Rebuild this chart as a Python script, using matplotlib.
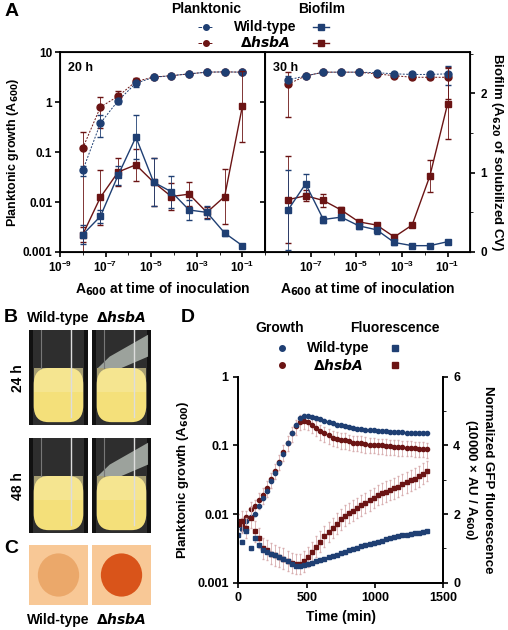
import numpy as np
import matplotlib.pyplot as plt
import matplotlib.patches as mpatches
from matplotlib.ticker import LogLocator, NullFormatter, FixedLocator

plt.rcParams['font.family'] = ['Liberation Sans', 'DejaVu Sans']
plt.rcParams['font.weight'] = 'bold'
plt.rcParams['axes.labelweight'] = 'bold'

BLUE = '#1f3f73'
RED = '#6b1414'

# ---- Panel A data ----
inoc = [1e-8, 5.95e-8, 3.57e-7, 2.14e-6, 1.29e-5, 7.7e-5, 4.6e-4, 2.78e-3, 1.67e-2, 0.1]

plank20_wt = [0.043, 0.38, 1.08, 2.4, 3.16, 3.4, 3.7, 4.0, 4.05, 4.0]
plank20_wt_err = [0.01, 0.18, 0.15, 0.4, 0.2, 0.2, 0.2, 0.2, 0.2, 0.2]
plank20_mut = [0.12, 0.8, 1.32, 2.6, 3.2, 3.4, 3.7, 4.0, 4.05, 4.0]
plank20_mut_err = [0.13, 0.5, 0.35, 0.4, 0.2, 0.2, 0.2, 0.2, 0.2, 0.2]
bio20_wt = [0.22, 0.45, 0.97, 1.45, 0.88, 0.76, 0.53, 0.50, 0.24, 0.08]
bio20_wt_err = [0.12, 0.08, 0.12, 0.28, 0.3, 0.2, 0.12, 0.08, 0.04, 0.02]
bio20_mut = [0.22, 0.69, 1.01, 1.10, 0.88, 0.70, 0.73, 0.50, 0.70, 1.84]
bio20_mut_err = [0.1, 0.35, 0.18, 0.2, 0.3, 0.17, 0.15, 0.07, 0.35, 0.45]

plank30_wt = [2.8, 3.36, 4.0, 4.0, 4.0, 3.9, 3.7, 3.6, 3.6, 3.7]
plank30_wt_err = [0.6, 0.2, 0.2, 0.2, 0.2, 0.2, 0.2, 0.2, 0.2, 1.5]
plank30_mut = [2.3, 3.36, 4.0, 4.0, 4.0, 3.7, 3.4, 3.16, 3.16, 3.16]
plank30_mut_err = [1.8, 0.2, 0.2, 0.2, 0.2, 0.2, 0.2, 0.2, 0.2, 2.0]
bio30_wt = [0.53, 0.86, 0.41, 0.44, 0.33, 0.28, 0.12, 0.08, 0.08, 0.13]
bio30_wt_err = [0.5, 0.12, 0.04, 0.03, 0.04, 0.05, 0.03, 0.02, 0.02, 0.02]
bio30_mut = [0.66, 0.71, 0.65, 0.53, 0.38, 0.34, 0.19, 0.34, 0.96, 1.87]
bio30_mut_err = [0.55, 0.07, 0.08, 0.04, 0.03, 0.03, 0.03, 0.03, 0.2, 0.45]

# ---- Panel D data (sampled every 30 min) ----
time_min = list(range(0, 1381, 30))
growth_wt = [0.007, 0.006, 0.008, 0.009, 0.010, 0.013, 0.017, 0.022, 0.030, 0.040,
             0.055, 0.075, 0.11, 0.15, 0.20, 0.25, 0.27, 0.27, 0.26, 0.25,
             0.24, 0.23, 0.22, 0.21, 0.20, 0.195, 0.19, 0.185, 0.18, 0.175,
             0.172, 0.17, 0.168, 0.166, 0.164, 0.162, 0.16, 0.158, 0.157, 0.156,
             0.155, 0.154, 0.153, 0.152, 0.151, 0.15, 0.15]
growth_mut = [0.008, 0.007, 0.009, 0.012, 0.013, 0.016, 0.019, 0.024, 0.032, 0.043,
              0.058, 0.08, 0.11, 0.15, 0.19, 0.22, 0.23, 0.22, 0.2, 0.18,
              0.16, 0.15, 0.14, 0.13, 0.125, 0.12, 0.12, 0.115, 0.11, 0.11,
              0.108, 0.105, 0.103, 0.102, 0.1, 0.1, 0.098, 0.097, 0.096, 0.095,
              0.094, 0.093, 0.092, 0.091, 0.09, 0.089, 0.088]
fluor_wt = [1.4, 1.2, 1.5, 1.0, 1.3, 1.1, 0.95, 0.9, 0.85, 0.8,
            0.75, 0.7, 0.62, 0.55, 0.5, 0.5, 0.52, 0.55, 0.58, 0.62,
            0.66, 0.7, 0.74, 0.78, 0.82, 0.86, 0.9, 0.94, 0.98, 1.02,
            1.06, 1.1, 1.13, 1.16, 1.2, 1.23, 1.26, 1.29, 1.32, 1.35,
            1.38, 1.4, 1.42, 1.44, 1.46, 1.48, 1.5]
fluor_mut = [1.7, 1.8, 1.6, 1.9, 1.5, 1.3, 1.0, 0.95, 0.85, 0.8,
             0.75, 0.7, 0.63, 0.57, 0.55, 0.55, 0.62, 0.75, 0.9, 1.05,
             1.2, 1.35, 1.48, 1.6, 1.72, 1.85, 1.95, 2.03, 2.1, 2.18,
             2.25, 2.32, 2.4, 2.47, 2.55, 2.6, 2.65, 2.7, 2.75, 2.8,
             2.87, 2.92, 2.98, 3.03, 3.1, 3.18, 3.25]

fig = plt.figure(figsize=(5.08, 6.3), dpi=100)


def log_axis(ax):
    ax.set_xscale('log')
    ax.set_yscale('log')
    ax.set_xlim(1e-9, 1)
    ax.set_ylim(1e-3, 10)
    ax.xaxis.set_major_locator(FixedLocator([1e-9, 1e-7, 1e-5, 1e-3, 1e-1]))
    ax.xaxis.set_minor_locator(FixedLocator([1e-8, 1e-6, 1e-4, 1e-2, 1]))
    ax.xaxis.set_minor_formatter(NullFormatter())
    ax.tick_params(labelsize=8.5, width=1.2, pad=2)
    ax.set_xlabel('A$_{600}$ at time of inoculation', fontsize=10)
    for s in ax.spines.values():
        s.set_linewidth(1.3)


def panel_a(ax, pw, pwe, pm, pme, bw, bwe, bm, bme, label):
    log_axis(ax)
    ax.errorbar(inoc, pm, yerr=pme, color=RED, ls='--', lw=0.7, marker='o', ms=5,
                capsize=2, elinewidth=0.6, dashes=(2, 1.5))
    ax.errorbar(inoc, pw, yerr=pwe, color=BLUE, ls='--', lw=0.7, marker='o', ms=5,
                capsize=2, elinewidth=0.6, dashes=(2, 1.5))
    ax.text(0.04, 0.95, label, transform=ax.transAxes, fontsize=9, va='top')
    ax2 = ax.twinx()
    ax2.set_ylim(0, 2.52)
    ax2.errorbar(inoc, bm, yerr=bme, color=RED, lw=1, marker='s', ms=5, capsize=2, elinewidth=0.6)
    ax2.errorbar(inoc, bw, yerr=bwe, color=BLUE, lw=1, marker='s', ms=5, capsize=2, elinewidth=0.6)
    ax2.set_yticks([0, 1, 2])
    ax2.set_yticks([0.5, 1.5, 2.5], minor=True)
    ax2.tick_params(width=1.2, labelsize=8.5)
    return ax2


axA1 = fig.add_axes([0.118, 0.6, 0.404, 0.317])
a2 = panel_a(axA1, plank20_wt, plank20_wt_err, plank20_mut, plank20_mut_err,
             bio20_wt, bio20_wt_err, bio20_mut, bio20_mut_err, '20 h')
a2.set_yticklabels([])
axA1.set_yticks([1e-3, 1e-2, 1e-1, 1, 10])
axA1.set_yticklabels(['0.001', '0.01', '0.1', '1', '10'])
axA1.yaxis.set_minor_locator(LogLocator(subs=[]))
axA1.set_ylabel('Planktonic growth (A$_{600}$)', fontsize=9, labelpad=1)

axA2 = fig.add_axes([0.522, 0.6, 0.404, 0.317])
b2 = panel_a(axA2, plank30_wt, plank30_wt_err, plank30_mut, plank30_mut_err,
             bio30_wt, bio30_wt_err, bio30_mut, bio30_mut_err, '30 h')
axA2.yaxis.set_major_formatter(NullFormatter())
axA2.yaxis.set_minor_locator(LogLocator(subs=[]))
axA2.set_xticks([1e-7, 1e-5, 1e-3, 1e-1])
axA2.set_xticks([1e-8, 1e-6, 1e-4, 1e-2], minor=True)
b2.set_ylabel('Biofilm (A$_{620}$ of solubilized CV)', fontsize=9.5, rotation=270, labelpad=13)

# legend A
fig.text(0.405, 0.986, 'Planktonic', ha='center', va='center', fontsize=10)
fig.text(0.633, 0.986, 'Biofilm', ha='center', va='center', fontsize=10)
fig.text(0.523, 0.957, 'Wild-type', ha='center', va='center', fontsize=10)
fig.text(0.523, 0.932, r'$\Delta$$\bfit{hsbA}$', ha='center', va='center', fontsize=10)
for y, c in [(0.957, BLUE), (0.932, RED)]:
    fig.add_artist(plt.Line2D([0.39, 0.42], [y, y], color=c, lw=0.7, ls='--', transform=fig.transFigure))
    fig.add_artist(plt.Line2D([0.405], [y], color=c, marker='o', ms=4, transform=fig.transFigure))
    fig.add_artist(plt.Line2D([0.617, 0.648], [y, y], color=c, lw=1, transform=fig.transFigure))
    fig.add_artist(plt.Line2D([0.632], [y], color=c, marker='s', ms=4, transform=fig.transFigure))

# ---- Panel B / C pictures ----
def tube(rect, film):
    ax = fig.add_axes(rect)
    ax.set_xlim(0, 1)
    ax.set_ylim(0, 1)
    ax.set_facecolor('#111111')
    ax.add_patch(mpatches.Rectangle((0.06, 0.0), 0.88, 1.0, fc='#2e2e2e', ec='none'))
    ax.add_patch(mpatches.FancyBboxPatch((0.08, 0.03), 0.84, 0.57, boxstyle='round,pad=0,rounding_size=0.25',
                                         fc='#f4e07a', ec='none', mutation_aspect=0.7))
    ax.add_patch(mpatches.Rectangle((0.08, 0.35), 0.84, 0.25, fc='#f7eaa0', ec='none', alpha=0.6))
    ax.plot([0.72, 0.72], [0.08, 1], color='#dddddd', lw=1)
    ax.plot([0.2, 0.2], [0.6, 1], color='#777777', lw=0.8)
    if film:
        ax.add_patch(mpatches.Polygon([[0.1, 0.6], [0.3, 0.72], [0.95, 0.95], [0.95, 0.72], [0.5, 0.6]],
                                      fc='#b8c0b8', ec='none', alpha=0.8))
    ax.set_xticks([])
    ax.set_yticks([])
    for s in ax.spines.values():
        s.set_visible(False)


w = 59 / 508
for row, y0 in enumerate([330, 438]):
    for col, x0 in enumerate([29, 92]):
        tube([x0 / 508, 1 - (y0 + 95) / 630, w, 95 / 630], film=(col == 1))

for col, (x0, fc) in enumerate([(29, '#e8a060'), (92, '#d9541a')]):
    ax = fig.add_axes([x0 / 508, 1 - 605 / 630, w, 60 / 630])
    ax.set_facecolor('#f8c896')
    ax.set_xlim(0, 1)
    ax.set_ylim(0, 1)
    ax.add_patch(mpatches.Ellipse((0.5, 0.5), 0.7, 0.72, fc=fc, ec='none', alpha=0.8 if col == 0 else 1))
    ax.set_xticks([])
    ax.set_yticks([])
    for s in ax.spines.values():
        s.set_visible(False)

fig.text(0.115, 1 - 322 / 630, 'Wild-type', ha='center', fontsize=10)
fig.text(0.238, 1 - 322 / 630, r'$\bf{\Delta}$$\bfit{hsbA}$', ha='center', fontsize=10)
fig.text(0.035, 1 - 378 / 630, '24 h', rotation=90, ha='center', va='center', fontsize=10)
fig.text(0.035, 1 - 486 / 630, '48 h', rotation=90, ha='center', va='center', fontsize=10)
fig.text(0.115, 1 - 624 / 630, 'Wild-type', ha='center', fontsize=10)
fig.text(0.238, 1 - 624 / 630, r'$\bf{\Delta}$$\bfit{hsbA}$', ha='center', fontsize=10)

# ---- Panel D ----
axD = fig.add_axes([0.469, 0.075, 0.404, 0.327])
axD.set_yscale('log')
axD.set_ylim(1e-3, 1)
axD.set_xlim(0, 1500)
axD.set_yticks([1e-3, 1e-2, 1e-1, 1])
axD.set_yticklabels(['0.001', '0.01', '0.1', '1'])
axD.yaxis.set_minor_locator(LogLocator(subs=[]))
axD.set_xticks([0, 500, 1000, 1500])
axD.tick_params(labelsize=9, width=1.2)
axD.set_xlabel('Time (min)', fontsize=10)
axD.set_ylabel('Planktonic growth (A$_{600}$)', fontsize=9.5)
axD.spines['top'].set_visible(False)
gw = np.array(growth_wt)
gm = np.array(growth_mut)
axD.errorbar(time_min, gm, yerr=gm * 0.25, fmt='o', color=RED, ms=3, ecolor='#d8aeb0', elinewidth=0.6, capsize=1)
axD.errorbar(time_min, gw, yerr=gw * 0.05, fmt='o', color=BLUE, ms=3, ecolor='#a8c0e0', elinewidth=0.6, capsize=1)
axD2 = axD.twinx()
axD2.set_ylim(0, 6)
axD2.set_yticks([0, 2, 4, 6])
axD2.set_yticks([1, 3, 5], minor=True)
axD2.tick_params(labelsize=9, width=1.2)
axD2.spines['top'].set_visible(False)
axD2.errorbar(time_min, fluor_mut, yerr=0.3, fmt='s', color=RED, ms=2.5, ecolor='#d8aeb0', elinewidth=0.6, capsize=1)
axD2.errorbar(time_min, fluor_wt, yerr=0.05, fmt='s', color=BLUE, ms=2.5, ecolor='#a8c0e0', elinewidth=0.6, capsize=1)
axD2.set_ylabel('Normalized GFP fluorescence\n(10000 × AU / A$_{600}$)', fontsize=9.5,
                rotation=270, labelpad=24)
for s in list(axD.spines.values()) + list(axD2.spines.values()):
    s.set_linewidth(1.3)

fig.text(0.551, 1 - 328 / 630, 'Growth', ha='center', va='center', fontsize=10)
fig.text(0.778, 1 - 328 / 630, 'Fluorescence', ha='center', va='center', fontsize=10)
fig.text(0.665, 1 - 348 / 630, 'Wild-type', ha='center', va='center', fontsize=10)
fig.text(0.665, 1 - 365 / 630, r'$\Delta$$\bfit{hsbA}$', ha='center', va='center', fontsize=10)
for y, c in [(1 - 348 / 630, BLUE), (1 - 365 / 630, RED)]:
    fig.add_artist(plt.Line2D([0.555], [y], color=c, marker='o', ms=4, transform=fig.transFigure))
    fig.add_artist(plt.Line2D([0.778], [y], color=c, marker='s', ms=4, transform=fig.transFigure))

# panel letters
fig.text(0.008, 0.975, 'A', fontsize=14)
fig.text(0.008, 1 - 322 / 630, 'B', fontsize=14)
fig.text(0.008, 1 - 553 / 630, 'C', fontsize=14)
fig.text(0.355, 1 - 322 / 630, 'D', fontsize=14)

fig.savefig('out.png', dpi=100)
